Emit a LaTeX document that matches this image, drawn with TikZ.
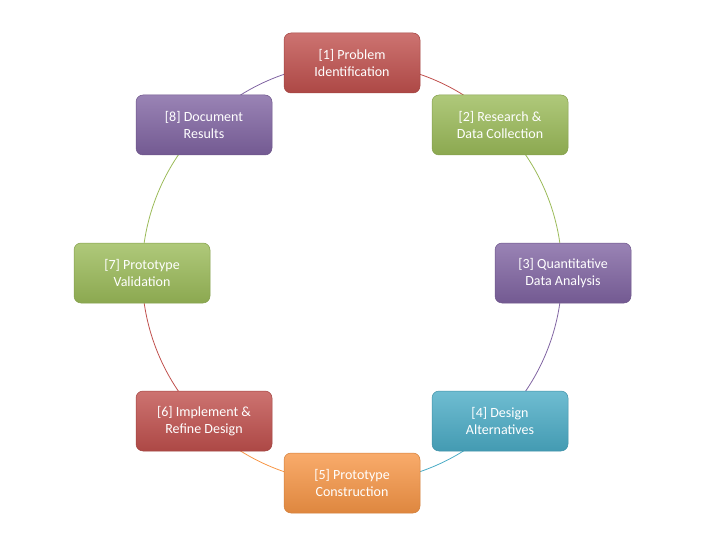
\documentclass[tikz,border=0pt]{standalone}
\usepackage{fontspec}
\setmainfont{Carlito}
\definecolor{cred}{HTML}{C0504D}
\definecolor{cgreen}{HTML}{9BBB59}
\definecolor{cpurple}{HTML}{8064A2}
\definecolor{caqua}{HTML}{4BACC6}
\definecolor{corange}{HTML}{F79646}
\begin{document}
\begin{tikzpicture}[x=1pt,y=-1pt,
  box/.style={rounded corners=7pt,minimum width=136pt,minimum height=60pt,
    align=center,text=white,font=\fontsize{14}{17}\selectfont,
    top color=#1!80!white,bottom color=#1!90!black,draw=#1!85!black,line width=0.5pt},
  ring/.style={line width=0.8pt,draw=#1}]
\useasboundingbox (0,0) rectangle (720,540);
\coordinate (c) at (352,273);
\foreach \k/\col in {1/cred,2/cgreen,3/cpurple,4/caqua,5/corange,6/cred,7/cgreen,8/cpurple}{
  \pgfmathsetmacro\a{-90+45*(\k-1)}
  \draw[ring=\col] (c) ++(\a:210) arc[start angle=\a,end angle=\a+45,radius=210];
}
\node[box=cred] (n1) at (352,63) {[1] Problem\\Identification};
\node[box=cgreen] (n2) at (500,125) {[2] Research \&\\Data Collection};
\node[box=cpurple] (n3) at (563,273) {[3] Quantitative\\Data Analysis};
\node[box=caqua] (n4) at (500,421) {[4] Design\\Alternatives};
\node[box=corange] (n5) at (352,483) {[5] Prototype\\Construction};
\node[box=cred] (n6) at (204,421) {[6] Implement \&\\Refine Design};
\node[box=cgreen] (n7) at (142,273) {[7] Prototype\\Validation};
\node[box=cpurple] (n8) at (204,125) {[8] Document\\Results};
\end{tikzpicture}
\end{document}
